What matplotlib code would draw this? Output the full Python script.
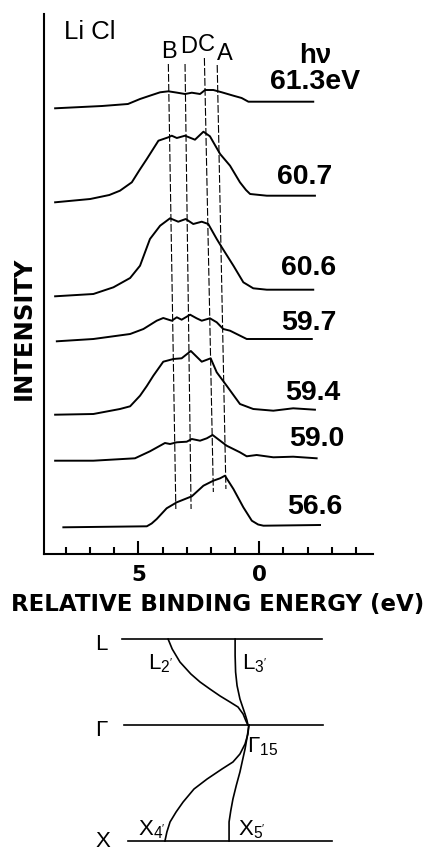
import matplotlib
matplotlib.use("Agg")
import matplotlib.pyplot as plt
from matplotlib.ticker import FixedLocator

plt.rcParams['mathtext.default'] = 'regular'

# photon energies (labels) and spectra: binding energy (eV) vs intensity (stacked)
photon_labels = ["61.3eV", "60.7", "60.6", "59.7", "59.4", "59.0", "56.6"]

e_613 = [8.44, 6.50, 5.43, 4.93, 4.50, 4.10, 3.76, 3.44, 3.07, 2.79, 2.45, 2.24, 1.90, 1.55, 1.07, 0.73, 0.45, 0.20, -2.23]
i_613 = [445.7, 448, 450, 455, 458.5, 461.7, 462.7, 461.5, 460, 461.3, 460, 464, 464, 461.7, 458.3, 456, 452.3, 452.3, 452.3]

e_607 = [8.44, 6.99, 6.20, 5.76, 5.27, 4.95, 4.65, 4.17, 3.76, 3.62, 3.41, 3.07, 2.66, 2.31, 2.04, 1.62, 1.21, 0.80, 0.55, 0.38, -0.31, -2.30]
i_607 = [351.7, 355, 359, 363.3, 371.7, 384, 395, 413.3, 416.7, 418.3, 416, 418.3, 414.3, 422.3, 417.7, 400, 388.3, 371.7, 364, 360, 358.3, 358.3]

e_606 = [8.44, 6.86, 6.03, 5.34, 4.93, 4.72, 4.52, 4.10, 3.69, 3.35, 3.04, 2.73, 2.38, 2.11, 1.76, 1.55, 1.07, 0.66, 0.25, -0.31, -2.23]
i_606 = [257.7, 260, 266.7, 276, 288.3, 302, 315, 328.3, 335.7, 332.3, 335, 330, 332.3, 330, 315, 306.7, 288.3, 271.7, 265.7, 264.3, 264.3]

e_597 = [8.37, 6.86, 5.34, 4.79, 4.24, 3.97, 3.62, 3.41, 3.21, 2.86, 2.59, 2.38, 2.04, 1.76, 1.49, 1.21, 0.52, -0.31, -2.17]
i_597 = [212.7, 215, 220, 225, 233.3, 236, 233.3, 236.7, 234.3, 239.3, 235.7, 233.3, 235.7, 231.7, 225, 223.3, 215, 215, 215]

e_594 = [8.44, 6.86, 5.76, 5.34, 4.93, 4.65, 4.38, 3.97, 3.55, 3.21, 2.83, 2.38, 2.01, 1.76, 1.35, 0.80, 0.25, -0.58, -1.40, -2.30]
i_594 = [139.3, 140, 145, 147.7, 158.3, 168, 178.3, 192.3, 195, 195.7, 203, 192.3, 195.7, 181.7, 168.3, 150, 145, 143.3, 145.7, 144.3]

e_590 = [8.44, 6.86, 5.14, 4.52, 3.90, 3.69, 3.41, 3.00, 2.79, 2.45, 2.17, 1.93, 1.62, 1.35, 0.80, 0.52, 0.11, -0.58, -1.40, -2.37]
i_590 = [93.3, 93.3, 95.7, 102.7, 111, 110, 111.7, 112.3, 115, 113.3, 115.7, 119, 113.3, 108.3, 101.7, 97.7, 99, 96.7, 97.3, 95.7]

e_566 = [8.10, 4.65, 4.45, 4.24, 3.83, 3.41, 2.79, 2.31, 1.90, 1.62, 1.42, 1.07, 0.66, 0.31, 0.05, -0.17, -2.51]
i_566 = [26.7, 27.7, 30.5, 35, 45.7, 51.7, 57.7, 68.3, 73.3, 75.7, 78.3, 65, 46.7, 33.3, 29.5, 28.3, 29]

spectra = [(e_613, i_613), (e_607, i_607), (e_606, i_606), (e_597, i_597),
           (e_594, i_594), (e_590, i_590), (e_566, i_566)]

# label anchor per spectrum (eV, intensity)
label_x = [-2.30, -1.89, -2.05, -2.05, -2.22, -2.38, -2.30]
label_y = [473, 378, 287, 232, 162, 116, 48]

# feature lines B, D, C, A: (top eV, top y, bottom eV, bottom y)
feat_names = ["B", "D", "C", "A"]
feat_top_e = [3.76, 3.07, 2.27, 1.74]
feat_top_i = [490, 490, 496, 489]
feat_bot_e = [3.45, 2.82, 1.90, 1.38]
feat_bot_i = [45, 45, 62, 65]
feat_lab_e = [3.75, 2.93, 2.20, 1.44]
feat_lab_i = [503, 508, 510, 501]

# band diagram: k positions L, Gamma, X and band energies
k_names = ["L", "Γ", "X"]
k_pos = [0.741, 0.0, -1.0]
k_line_left = [5.67, 5.59, 5.42]
k_line_right = [-2.60, -2.63, -3.00]

L2_e = [3.77, 3.60, 3.28, 2.83, 2.45, 2.04, 1.62, 1.21, 0.88, 0.67, 0.55, 0.47]
L2_k = [0.741, 0.655, 0.543, 0.440, 0.371, 0.310, 0.250, 0.198, 0.155, 0.095, 0.034, 0.0]
L3_e = [1.00, 1.00, 0.98, 0.92, 0.80, 0.68, 0.59, 0.51, 0.47]
L3_k = [0.741, 0.60, 0.457, 0.34, 0.224, 0.15, 0.095, 0.04, 0.0]
X4_e = [0.43, 0.47, 0.59, 0.80, 1.09, 1.54, 2.16, 2.70, 3.15, 3.44, 3.69, 3.82, 3.90]
X4_k = [0.0, -0.078, -0.164, -0.250, -0.319, -0.379, -0.466, -0.552, -0.664, -0.750, -0.836, -0.922, -1.0]
X5_e = [0.43, 0.50, 0.59, 0.70, 0.80, 0.95, 1.09, 1.18, 1.25, 1.25]
X5_k = [0.0, -0.10, -0.207, -0.31, -0.405, -0.52, -0.638, -0.74, -0.836, -1.0]

xticks = [8, 7, 6, 5, 4, 3, 2, 1, 0, -1, -2, -3, -4]
major_ticks = [5, 0]

fig = plt.figure(figsize=(4.32, 8.53), dpi=100)

# top: spectra
ax = fig.add_axes([44 / 432, 1 - 555 / 853, 329 / 432, 540 / 853])
ax.set_xlim(8.90, -4.70)
ax.set_ylim(0, 540)

for e, i in spectra:
    ax.plot(e, i, color="black", lw=1.4, solid_joinstyle="round")

for te, ti, be, bi in zip(feat_top_e, feat_top_i, feat_bot_e, feat_bot_i):
    ax.plot([te, be], [ti, bi], color="black", lw=0.8, dashes=(7, 2))

for name, x, y in zip(feat_names, feat_lab_e, feat_lab_i):
    ax.text(x, y, name, ha="center", va="center", fontsize=17,
            family="Liberation Sans")

for lab, x, y in zip(photon_labels, label_x, label_y):
    ax.text(x, y, lab, ha="center", va="center", fontsize=20.5,
            family="Liberation Sans", weight="bold")

ax.text(-2.30, 499, "hν", ha="center", va="center", fontsize=20,
        family="Liberation Sans", weight="bold")
ax.text(7.02, 523, "Li Cl", ha="center", va="center", fontsize=18.5,
        family="Liberation Sans")

for s in ["top", "right"]:
    ax.spines[s].set_visible(False)
ax.spines["left"].set_linewidth(1.5)
ax.spines["bottom"].set_linewidth(1.5)
ax.set_yticks([])
ax.xaxis.set_major_locator(FixedLocator(major_ticks))
ax.xaxis.set_minor_locator(FixedLocator([t for t in xticks if t not in major_ticks]))
ax.set_xticklabels([str(t) for t in major_ticks])
ax.tick_params(axis="x", which="major", direction="in", length=9.5, width=1.5, pad=7)
ax.tick_params(axis="x", which="minor", direction="in", length=5, width=1.5)
for lab in ax.get_xticklabels():
    lab.set_fontsize(15.5)
    lab.set_fontweight("bold")

fig.text(24 / 432, 1 - 328 / 853, "INTENSITY", rotation=90, ha="center", va="center",
         fontsize=17.5, weight="bold")
fig.text(217.5 / 432, 1 - 605 / 853, "RELATIVE BINDING ENERGY (eV)", ha="center",
         va="center", fontsize=16.5, weight="bold")

# bottom: band diagram
bx = fig.add_axes([44 / 432, 0, 329 / 432, 233 / 853])
bx.set_xlim(8.90, -4.70)
bx.set_ylim(-1.095, 0.914)
bx.axis("off")

for kp, xl, xr in zip(k_pos, k_line_left, k_line_right):
    bx.plot([xl, xr], [kp, kp], color="black", lw=1.2)
for e, k in [(L2_e, L2_k), (L3_e, L3_k), (X4_e, X4_k), (X5_e, X5_k)]:
    bx.plot(e, k, color="black", lw=1.2, solid_joinstyle="round")

bx.text(6.54, 0.70, k_names[0], ha="center", va="center", fontsize=16, family="Liberation Sans")
bx.text(6.54, -0.043, k_names[1], ha="center", va="center", fontsize=16, family="Liberation Sans")
bx.text(6.45, -1.0, k_names[2], ha="center", va="center", fontsize=16, family="Liberation Sans")
bx.text(4.10, 0.534, "L$_{2'}$", ha="center", va="center", fontsize=16, family="Liberation Sans")
bx.text(0.18, 0.534, "L$_{3'}$", ha="center", va="center", fontsize=16, family="Liberation Sans")
bx.text(-0.15, -0.18, "Γ$_{15}$", ha="center", va="center", fontsize=16, family="Liberation Sans")
bx.text(4.43, -0.89, "X$_{4'}$", ha="center", va="center", fontsize=16, family="Liberation Sans")
bx.text(0.30, -0.89, "X$_{5'}$", ha="center", va="center", fontsize=16, family="Liberation Sans")

fig.savefig("out.png", dpi=100)
